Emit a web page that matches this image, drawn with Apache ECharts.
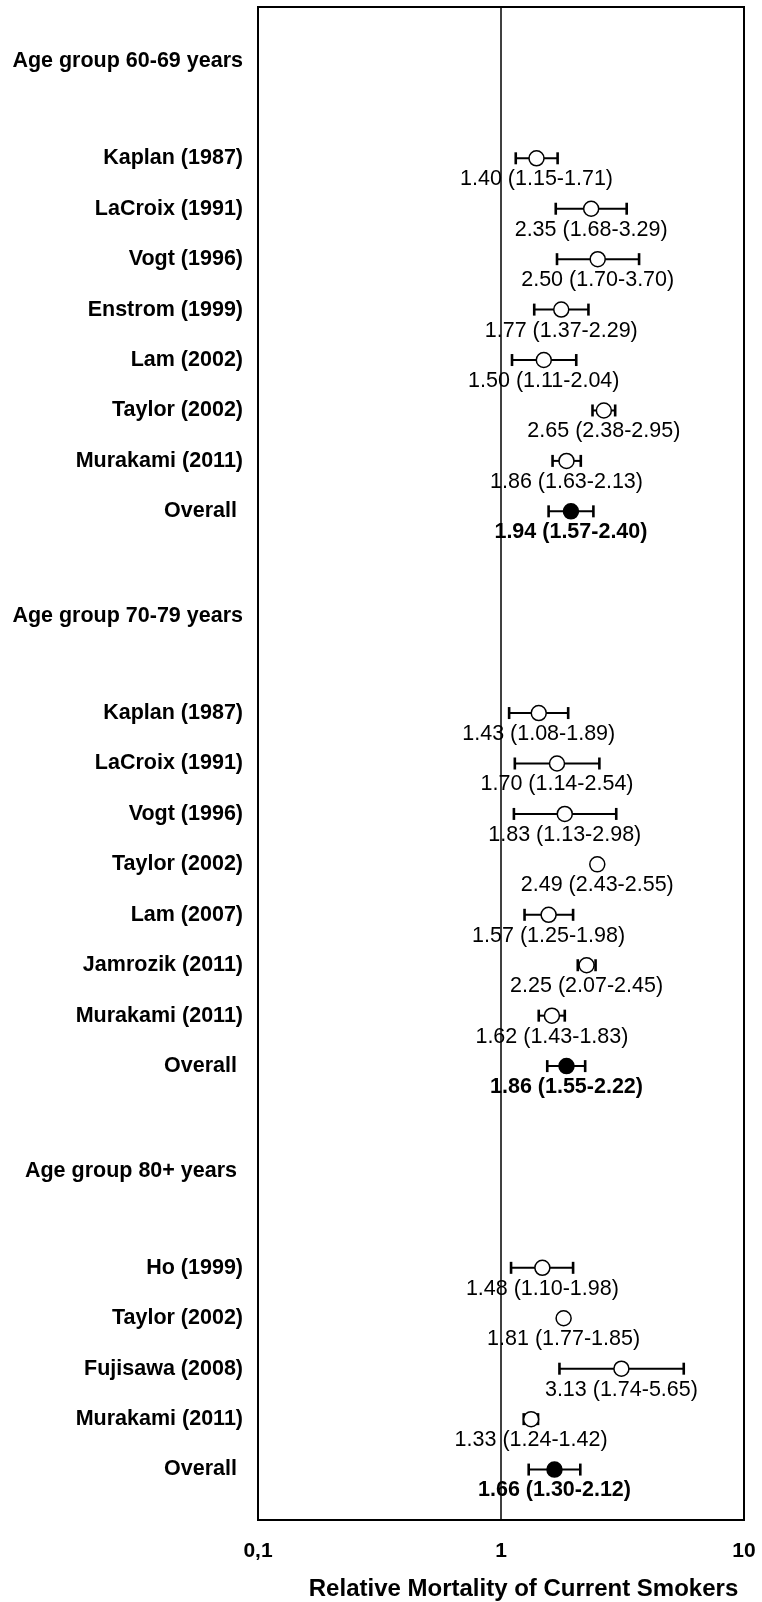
<!DOCTYPE html>
<html>
<head>
<meta charset="utf-8">
<script src="https://cdn.jsdelivr.net/npm/echarts@6/dist/echarts.min.js"></script>
<style>
  html, body { margin: 0; padding: 0; background: #fff; }
  #chart { width: 762px; height: 1602px; }
</style>
</head>
<body>
<div id="chart"></div>
<script>
// Row labels, top to bottom (blank strings are spacer rows)
const rowNames = [
  'Age group 60-69 years', '', 'Kaplan (1987)', 'LaCroix (1991)', 'Vogt (1996)',
  'Enstrom (1999)', 'Lam (2002)', 'Taylor (2002)', 'Murakami (2011)', 'Overall ',
  '', 'Age group 70-79 years', '', 'Kaplan (1987)', 'LaCroix (1991)', 'Vogt (1996)',
  'Taylor (2002)', 'Lam (2007)', 'Jamrozik (2011)', 'Murakami (2011)', 'Overall ',
  '', 'Age group 80+ years ', '', 'Ho (1999)', 'Taylor (2002)', 'Fujisawa (2008)',
  'Murakami (2011)', 'Overall '
];

// Relative risk and 95% CI per row (null = no estimate on that row)
const rr = [
  null, null, 1.40, 2.35, 2.50, 1.77, 1.50, 2.65, 1.86, 1.94,
  null, null, null, 1.43, 1.70, 1.83, 2.49, 1.57, 2.25, 1.62, 1.86,
  null, null, null, 1.48, 1.81, 3.13, 1.33, 1.66
];
const ciLow = [
  null, null, 1.15, 1.68, 1.70, 1.37, 1.11, 2.38, 1.63, 1.57,
  null, null, null, 1.08, 1.14, 1.13, 2.43, 1.25, 2.07, 1.43, 1.55,
  null, null, null, 1.10, 1.77, 1.74, 1.24, 1.30
];
const ciHigh = [
  null, null, 1.71, 3.29, 3.70, 2.29, 2.04, 2.95, 2.13, 2.40,
  null, null, null, 1.89, 2.54, 2.98, 2.55, 1.98, 2.45, 1.83, 2.22,
  null, null, null, 1.98, 1.85, 5.65, 1.42, 2.12
];

const xTickLabels = ['0,1', '1', '10'];
const axisTitle = 'Relative Mortality of Current Smokers';

const FONT = '"Liberation Sans", Arial, sans-serif';

const points = [];
rr.forEach((v, i) => {
  if (v == null) return;
  const pooled = rowNames[i].trim() === 'Overall';
  points.push([v, i, ciLow[i], ciHigh[i], pooled ? 1 : 0]);
});

function fmt(v) { return v.toFixed(2); }

function renderForest(params, api) {
  const est = api.value(0), row = api.value(1);
  const lo = api.value(2), hi = api.value(3);
  const pooled = api.value(4) === 1;
  const c = api.coord([est, row]);
  const pLo = api.coord([lo, row]);
  const pHi = api.coord([hi, row]);
  const capH = 6;
  return {
    type: 'group',
    children: [
      { type: 'line', shape: { x1: pLo[0], y1: c[1], x2: pHi[0], y2: c[1] }, style: { stroke: '#000', lineWidth: 2 } },
      { type: 'line', shape: { x1: pLo[0], y1: c[1] - capH, x2: pLo[0], y2: c[1] + capH }, style: { stroke: '#000', lineWidth: 2.6 } },
      { type: 'line', shape: { x1: pHi[0], y1: c[1] - capH, x2: pHi[0], y2: c[1] + capH }, style: { stroke: '#000', lineWidth: 2.6 } },
      { type: 'circle', shape: { cx: c[0], cy: c[1], r: 7.5 },
        style: { fill: pooled ? '#000' : '#fff', stroke: '#000', lineWidth: 1.5 } },
      { type: 'text', x: c[0], y: c[1] + 21,
        style: {
          text: fmt(est) + ' (' + fmt(lo) + '-' + fmt(hi) + ')',
          fill: '#000', align: 'center', verticalAlign: 'middle',
          font: (pooled ? 'bold ' : '') + '21.5px ' + FONT
        } }
    ]
  };
}

const chart = echarts.init(document.getElementById('chart'), null, { renderer: 'canvas' });
chart.setOption({
  animation: false,
  backgroundColor: '#fff',
  grid: {
    left: 258, right: 18, top: 7, bottom: 82,
    outerBoundsMode: 'none',
    containLabel: false,
    show: true, borderColor: '#000', borderWidth: 2, backgroundColor: 'transparent'
  },
  xAxis: {
    type: 'log', logBase: 10, min: 0.1, max: 10,
    axisLine: { show: false },
    axisTick: { show: false },
    splitLine: { show: false },
    axisLabel: {
      margin: 21, color: '#000', fontSize: 21, fontWeight: 'bold', fontFamily: FONT,
      showMinLabel: true, showMaxLabel: true,
      formatter: v => xTickLabels[Math.round(Math.log10(v)) + 1] || ''
    },
    name: axisTitle,
    nameLocation: 'middle',
    nameGap: 57,
    nameTextStyle: { color: '#000', fontSize: 24, fontWeight: 'bold', fontFamily: FONT, padding: [0, 0, 0, 45] }
  },
  yAxis: {
    type: 'value', inverse: true, min: -1, max: 29, interval: 1,
    axisLine: { show: false },
    axisTick: { show: false },
    splitLine: { show: false },
    axisLabel: {
      margin: 15, color: '#000', fontSize: 21.5, fontWeight: 'bold', fontFamily: FONT,
      showMinLabel: true, showMaxLabel: true,
      formatter: v => {
        const name = (Number.isInteger(v) && v >= 0 && v < rowNames.length) ? rowNames[v] : '';
        if (!name) return '';
        // group headings sit a little lower than their row line
        return name.indexOf('Age group') === 0 ? '{h|' + name + '}' : name;
      },
      rich: {
        h: { fontSize: 21.5, fontWeight: 'bold', fontFamily: FONT, color: '#000', padding: [8, 0, 0, 0] }
      }
    }
  },
  series: [
    {
      type: 'custom',
      renderItem: renderForest,
      encode: { x: 0, y: 1 },
      data: points,
      z: 2
    },
    {
      // reference line at RR = 1
      type: 'scatter',
      data: [],
      z: 5,
      markLine: {
        silent: true,
        symbol: ['none', 'none'],
        label: { show: false },
        lineStyle: { color: '#000', width: 1.5, type: 'solid' },
        data: [{ xAxis: 1 }]
      }
    }
  ]
});
</script>
</body>
</html>
